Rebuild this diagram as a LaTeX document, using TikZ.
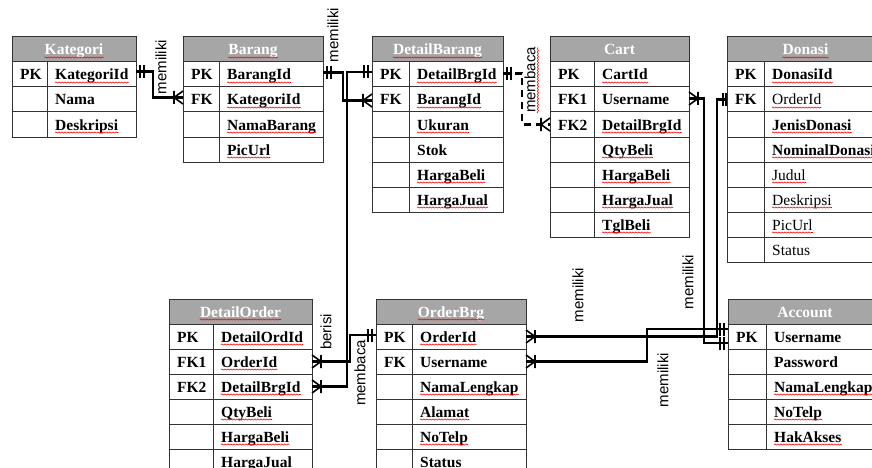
\documentclass[tikz,border=0pt]{standalone}
\usepackage{fontspec}
\setmainfont{Liberation Serif}
\newfontfamily\lblfont{Liberation Sans}
\usetikzlibrary{decorations.markings,decorations.pathmorphing}

\newcommand\tabfont{\fontsize{15.5}{18}\selectfont}
\def\squigflag{u}

\tikzset{
  tabline/.style={draw=black!80, line width=1pt},
  hdr/.style={tabline, fill=black!35, minimum height=25pt, inner sep=0pt, outer sep=0pt},
  rowbox/.style={tabline, minimum height=25pt, inner sep=0pt, outer sep=0pt},
  hdrtext/.style={font=\tabfont\bfseries, text=white, inner sep=0pt},
  celltext/.style={inner sep=0pt},
  squig/.style={draw=red, line width=0.6pt, decorate,
    decoration={snake, segment length=3pt, amplitude=0.6pt}},
  lbl/.style={font=\lblfont\fontsize{15}{18}\selectfont, rotate=90, inner sep=0pt},
  conn/.style={line width=2.1pt},
  mk/.style={solid, line width=1.6pt},
  one at start/.style={postaction={decorate, decoration={markings,
    mark=at position 0 with {\draw[mk] (4pt,-6.5pt)--(4pt,6.5pt) (8pt,-6.5pt)--(8pt,6.5pt);}}}},
  one at end/.style={postaction={decorate, decoration={markings,
    mark=at position 1 with {\draw[mk] (-4pt,-6.5pt)--(-4pt,6.5pt) (-8pt,-6.5pt)--(-8pt,6.5pt);}}}},
  crow at start/.style={postaction={decorate, decoration={markings,
    mark=at position 0 with {\draw[mk] (9pt,0)--(0,6.5pt) (9pt,0)--(0,-6.5pt) (9pt,-6.5pt)--(9pt,6.5pt);}}}},
  crow at end/.style={postaction={decorate, decoration={markings,
    mark=at position 1 with {\draw[mk] (-9pt,0)--(0,6.5pt) (-9pt,0)--(0,-6.5pt) (-9pt,-6.5pt)--(-9pt,6.5pt);}}}},
}

% #1 id, #2 left x, #3 divider x, #4 right x, #5 top y, #6 title,
% #7 u = title underlined, #8 rows key/field/underline flag/font series
\newcommand\ertable[8]{%
  \pgfmathsetmacro\tabw{#4-#2}%
  \node[hdr, minimum width=\tabw pt, anchor=north west] (#1-h) at (#2,#5) {};
  \node[hdrtext, anchor=base] (#1-t) at ({(#2+#4)/2},#5+18) {#6};
  \ifx#7u\draw[squig] ([yshift=-2.5pt]#1-t.base west) -- ([yshift=-2.5pt]#1-t.base east);\fi
  \foreach \rk/\rf/\rs/\rw [count=\i] in {#8}{%
    \pgfmathsetmacro\ry{#5+25*\i}%
    \node[rowbox, minimum width=\tabw pt, anchor=north west] (#1-\i) at (#2,\ry) {};
    \draw[tabline] (#3,\ry) -- (#3,\ry+25);
    \node[celltext, font=\tabfont\bfseries, anchor=base west] (#1-k\i) at (#2+8,\ry+18) {\rk};
    \node[celltext, font=\tabfont\rw, anchor=base west] (#1-f\i) at (#3+8,\ry+18) {\rf};
    \ifx\rs\squigflag
      \draw[squig] ([yshift=-2.5pt]#1-f\i.base west) -- ([yshift=-2.5pt]#1-f\i.base east);
    \fi
  }%
}

\begin{document}
\begin{tikzpicture}[x=1pt, y=-1pt]
\useasboundingbox (0,0) rectangle (872,468);
\fill[white] (0,0) rectangle (872,468);
\clip (0,0) rectangle (872,468);

% entity tables
\ertable{kat}{12}{47}{136}{37}{Kategori}{u}{
  PK/KategoriId/u/\bfseries, /Nama/n/\bfseries, /Deskripsi/u/\bfseries}
\ertable{bar}{183}{219}{323}{37}{Barang}{u}{
  PK/BarangId/u/\bfseries, FK/KategoriId/u/\bfseries,
  /NamaBarang/u/\bfseries, /PicUrl/u/\bfseries}
\ertable{db}{372}{409}{503}{37}{DetailBarang}{u}{
  PK/DetailBrgId/u/\bfseries, FK/BarangId/u/\bfseries, /Ukuran/u/\bfseries,
  /Stok/n/\bfseries, /HargaBeli/u/\bfseries, /HargaJual/u/\bfseries}
\ertable{cart}{550}{594}{689}{37}{Cart}{n}{
  PK/CartId/u/\bfseries, FK1/Username/n/\bfseries, FK2/DetailBrgId/u/\bfseries,
  /QtyBeli/u/\bfseries, /HargaBeli/u/\bfseries, /HargaJual/u/\bfseries,
  /TglBeli/u/\bfseries}
\ertable{don}{727}{764}{884}{37}{Donasi}{u}{
  PK/DonasiId/u/\bfseries, FK/OrderId/u/\mdseries, /JenisDonasi/u/\bfseries,
  /NominalDonasi/u/\bfseries, /Judul/u/\mdseries, /Deskripsi/u/\mdseries,
  /PicUrl/u/\mdseries, /Status/n/\mdseries}
\ertable{do}{169}{213}{312}{299}{DetailOrder}{u}{
  PK/DetailOrdId/u/\bfseries, FK1/OrderId/u/\bfseries, FK2/DetailBrgId/u/\bfseries,
  /QtyBeli/u/\bfseries, /HargaBeli/u/\bfseries, /HargaJual/u/\bfseries}
\ertable{ob}{376}{412}{526}{299}{OrderBrg}{u}{
  PK/OrderId/u/\bfseries, FK/Username/n/\bfseries, /NamaLengkap/u/\bfseries,
  /Alamat/u/\bfseries, /NoTelp/u/\bfseries, /Status/n/\bfseries}
\ertable{acc}{728}{766}{882}{299}{Account}{n}{
  PK/Username/n/\bfseries, /Password/n/\bfseries, /NamaLengkap/u/\bfseries,
  /NoTelp/u/\bfseries, /HakAkses/u/\bfseries}

% relationships
\draw[conn, one at start, crow at end]
  ([yshift=3pt]kat-1.east) -- ++(17,0) |- ([yshift=2pt]bar-2.west);
\draw[conn, one at start, crow at end]
  ([yshift=2pt]bar-1.east) -- ++(20,0) |- ([yshift=-1pt]db-2.west);
\draw[conn, one at start, crow at end]
  ([yshift=2.5pt]db-1.west) -- ++(-25,0) |- (do-3.east);
\draw[conn, one at start, crow at end]
  ([yshift=1.5pt]ob-1.west) -- ++(-26,0) |- (do-2.east);
\draw[conn, dash pattern=on 7pt off 5pt, one at start, crow at end]
  ([yshift=1pt]db-1.east) -- ++(19,0) |- (cart-3.west);
\draw[conn, crow at start, one at end]
  ([yshift=1pt]cart-2.east) -- ++(15,0) |- ([yshift=-6.5pt]acc-1.west);
\draw[conn, crow at start]
  (ob-1.east) -| ([xshift=-10pt]don-2.west) -- (don-2.west);
\draw[mk] ([xshift=-4pt,yshift=-6.5pt]don-2.west) -- ([xshift=-4pt,yshift=6.5pt]don-2.west)
  ([xshift=-1pt,yshift=-6.5pt]don-2.west) -- ([xshift=-1pt,yshift=6.5pt]don-2.west);
\draw[conn, crow at start, one at end]
  (ob-2.east) -- ++(121,0) |- ([yshift=7.5pt]acc-1.west);

% relationship names
\node[lbl] (l1) at (161,67) {memiliki};
\node[lbl] (l2) at (333,35) {memiliki};
\node[lbl] (l3) at (530,80) {membaca};
\draw[squig] ([xshift=2.5pt]l3.base west) -- ([xshift=2.5pt]l3.base east);
\node[lbl] (l4) at (578,295) {memiliki};
\node[lbl] (l5) at (688,282) {memiliki};
\node[lbl] (l6) at (663,380) {memiliki};
\node[lbl] (l7) at (326,332) {berisi};
\node[lbl] (l8) at (360,373) {membaca};
\end{tikzpicture}
\end{document}
